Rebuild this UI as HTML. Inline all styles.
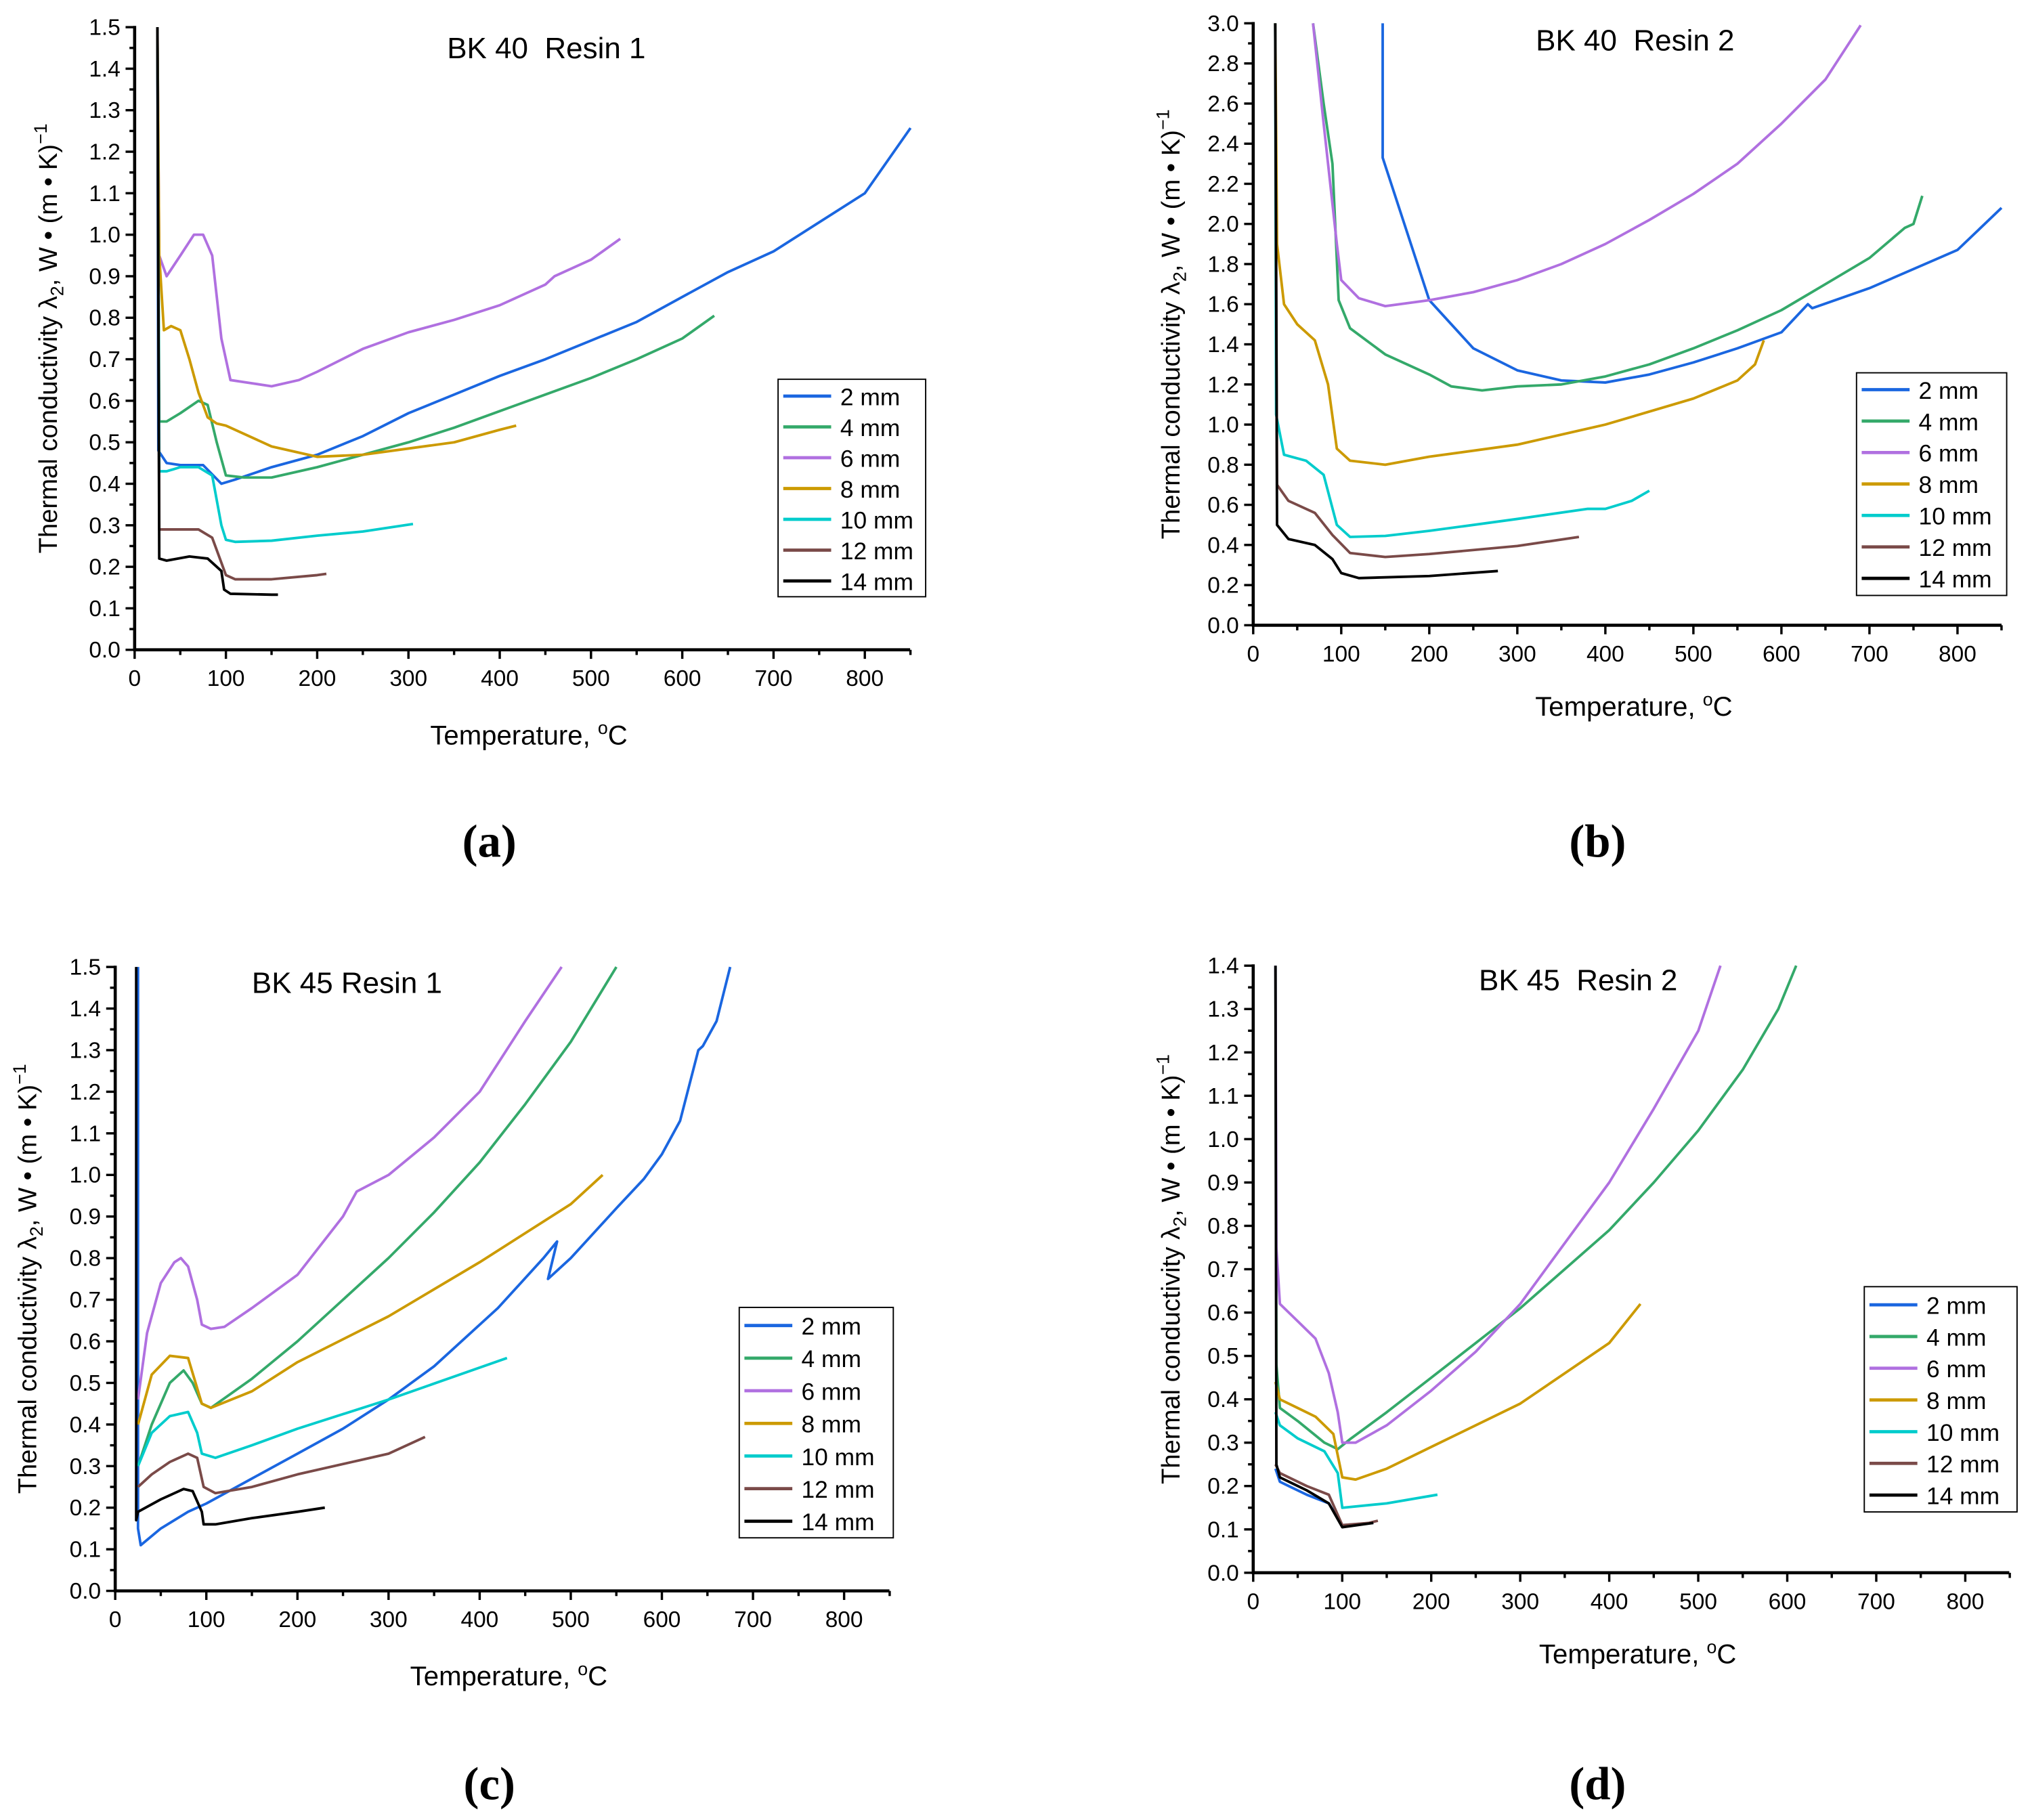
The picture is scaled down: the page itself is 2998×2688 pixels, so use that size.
<!DOCTYPE html>
<html><head><meta charset="utf-8">
<style>
html,body{margin:0;padding:0;background:#fff;}
svg{display:block;}
text{font-family:"Liberation Sans",sans-serif;fill:#000;}
</style></head>
<body>
<svg id="fig" width="2998" height="2688" viewBox="0 0 1568 1406" preserveAspectRatio="none" xmlns="http://www.w3.org/2000/svg"></svg>
<script>
const seriesNames = ["2 mm","4 mm","6 mm","8 mm","10 mm","12 mm","14 mm"];
const seriesColors = ["#1a66e0","#34a96a","#b070e0","#cc9a00","#00cccc","#7a4a48","#000000"];

// Panel (a) BK 40 Resin 1  [T, lambda]
const a2 = [[25,1.5],[26,0.48],[35,0.45],[50,0.445],[75,0.445],[95,0.40],[110,0.41],[150,0.44],[200,0.47],[250,0.515],[300,0.57],[350,0.615],[400,0.66],[450,0.70],[500,0.745],[550,0.79],[600,0.85],[650,0.91],[700,0.96],[750,1.03],[800,1.10],[850,1.257]];
const a4 = [[25,1.5],[27,0.55],[35,0.55],[50,0.57],[70,0.60],[80,0.59],[90,0.5],[100,0.42],[120,0.415],[150,0.415],[200,0.44],[250,0.47],[300,0.5],[350,0.535],[400,0.575],[450,0.615],[500,0.655],[550,0.70],[600,0.75],[635,0.805]];
const a6 = [[25,1.5],[27,0.95],[35,0.90],[50,0.95],[65,1.0],[75,1.0],[85,0.95],[95,0.75],[105,0.65],[120,0.645],[150,0.635],[180,0.65],[200,0.67],[250,0.725],[300,0.765],[350,0.795],[400,0.83],[450,0.88],[460,0.9],[500,0.94],[532,0.99]];
const a8 = [[25,1.5],[27,0.95],[32,0.77],[40,0.78],[50,0.77],[60,0.7],[70,0.62],[80,0.56],[90,0.545],[100,0.54],[150,0.49],[200,0.465],[250,0.47],[300,0.485],[350,0.5],[400,0.53],[418,0.54]];
const a10 = [[25,1.5],[27,0.43],[35,0.43],[50,0.44],[70,0.44],[85,0.42],[95,0.30],[100,0.265],[110,0.26],[150,0.263],[200,0.275],[250,0.285],[305,0.303]];
const a12 = [[25,1.5],[27,0.29],[40,0.29],[70,0.29],[85,0.27],[95,0.21],[100,0.18],[110,0.17],[150,0.17],[200,0.18],[210,0.183]];
const a14 = [[25,1.5],[27,0.22],[35,0.215],[60,0.225],[80,0.22],[95,0.19],[98,0.145],[105,0.135],[150,0.133],[157,0.133]];

// Panel (b) BK 40 Resin 2
const b2 = [[147,3.0],[147,2.33],[200,1.62],[250,1.38],[300,1.27],[350,1.22],[400,1.21],[450,1.25],[500,1.31],[550,1.38],[600,1.46],[630,1.6],[635,1.58],[700,1.68],[800,1.87],[850,2.08]];
const b4 = [[68,3.0],[80,2.6],[90,2.3],[97,1.62],[110,1.48],[150,1.35],[200,1.25],[225,1.19],[260,1.17],[300,1.19],[350,1.2],[400,1.24],[450,1.3],[500,1.38],[550,1.47],[600,1.57],[650,1.7],[700,1.83],[740,1.98],[750,2.0],[760,2.14]];
const b6 = [[68,3.0],[80,2.5],[95,1.9],[100,1.72],[120,1.63],[150,1.59],[200,1.62],[250,1.66],[300,1.72],[350,1.8],[400,1.9],[450,2.02],[500,2.15],[550,2.3],[600,2.5],[650,2.72],[690,2.99]];
const b8 = [[25,3.0],[27,1.9],[35,1.6],[50,1.5],[70,1.42],[85,1.2],[95,0.88],[110,0.82],[150,0.8],[200,0.84],[300,0.9],[400,1.0],[500,1.13],[550,1.22],[570,1.3],[580,1.42]];
const b10 = [[25,3.0],[26,1.05],[35,0.85],[60,0.82],[80,0.75],[95,0.5],[110,0.44],[150,0.445],[200,0.47],[300,0.53],[380,0.58],[400,0.58],[430,0.62],[450,0.67]];
const b12 = [[25,3.0],[27,0.7],[40,0.62],[70,0.56],[90,0.45],[110,0.36],[150,0.34],[200,0.355],[300,0.395],[370,0.44]];
const b14 = [[25,3.0],[27,0.5],[40,0.43],[70,0.4],[90,0.33],[100,0.26],[120,0.235],[200,0.245],[278,0.27]];

// Panel (c) BK 45 Resin 1
const c2 = [[25,1.5],[25,0.15],[28,0.11],[50,0.15],[80,0.19],[100,0.21],[150,0.27],[200,0.33],[250,0.39],[300,0.46],[350,0.54],[420,0.68],[470,0.8],[485,0.84],[475,0.75],[500,0.8],[550,0.92],[580,0.99],[600,1.05],[620,1.13],[640,1.3],[645,1.31],[660,1.37],[675,1.5]];
const c4 = [[25,0.3],[40,0.4],[60,0.5],[75,0.53],[85,0.5],[95,0.45],[105,0.44],[150,0.51],[200,0.6],[250,0.7],[300,0.8],[350,0.91],[400,1.03],[450,1.17],[500,1.32],[550,1.5]];
const c6 = [[25,0.46],[35,0.62],[50,0.74],[65,0.79],[72,0.8],[80,0.78],[90,0.7],[95,0.64],[105,0.63],[120,0.635],[150,0.68],[200,0.76],[250,0.9],[265,0.96],[300,1.0],[350,1.09],[400,1.2],[450,1.37],[490,1.5]];
const c8 = [[25,0.4],[40,0.52],[60,0.565],[80,0.56],[95,0.45],[105,0.44],[150,0.48],[200,0.55],[300,0.66],[400,0.79],[500,0.93],[535,1.0]];
const c10 = [[25,0.3],[40,0.38],[60,0.42],[80,0.43],[90,0.38],[95,0.33],[110,0.32],[150,0.35],[200,0.39],[300,0.46],[430,0.56]];
const c12 = [[25,0.25],[40,0.28],[60,0.31],[80,0.33],[90,0.32],[97,0.25],[110,0.235],[150,0.25],[200,0.28],[260,0.31],[300,0.33],[340,0.37]];
const c14 = [[23,1.5],[23,0.17],[25,0.19],[50,0.22],[75,0.245],[85,0.24],[95,0.19],[97,0.16],[110,0.16],[150,0.175],[200,0.19],[230,0.2]];

// Panel (d) BK 45 Resin 2
const d2 = [[25,0.24],[30,0.21],[60,0.18],[85,0.16],[100,0.11],[135,0.115]];
const d4 = [[25,1.4],[26,0.48],[30,0.38],[50,0.35],[80,0.3],[95,0.285],[110,0.31],[150,0.37],[200,0.45],[250,0.53],[300,0.61],[350,0.7],[400,0.79],[450,0.9],[500,1.02],[550,1.16],[590,1.3],[610,1.4]];
const d6 = [[25,1.4],[26,0.75],[30,0.62],[50,0.58],[70,0.54],[85,0.46],[95,0.37],[100,0.3],[115,0.3],[150,0.34],[200,0.42],[250,0.51],[300,0.62],[350,0.76],[400,0.9],[450,1.07],[500,1.25],[525,1.4]];
const d8 = [[25,0.44],[30,0.4],[50,0.38],[70,0.36],[90,0.32],[100,0.22],[115,0.215],[150,0.24],[200,0.29],[300,0.39],[400,0.53],[435,0.62]];
const d10 = [[25,0.37],[30,0.34],[50,0.31],[80,0.28],[95,0.23],[100,0.15],[150,0.16],[207,0.18]];
const d12 = [[25,0.25],[30,0.23],[60,0.2],[85,0.18],[100,0.11],[130,0.115],[140,0.12]];
const d14 = [[25,1.4],[26,0.25],[30,0.22],[60,0.19],[85,0.16],[100,0.105],[135,0.115]];

const xTicks = [0,100,200,300,400,500,600,700,800];
const yTicksA = [0,0.1,0.2,0.3,0.4,0.5,0.6,0.7,0.8,0.9,1.0,1.1,1.2,1.3,1.4,1.5];
const yTicksB = [0,0.2,0.4,0.6,0.8,1.0,1.2,1.4,1.6,1.8,2.0,2.2,2.4,2.6,2.8,3.0];
const yTicksD = [0,0.1,0.2,0.3,0.4,0.5,0.6,0.7,0.8,0.9,1.0,1.1,1.2,1.3,1.4];

const NS = "http://www.w3.org/2000/svg";
const svg = document.getElementById("fig");
function mk(tag, attrs, parent){
  const e = document.createElementNS(NS, tag);
  for (const k in attrs) e.setAttribute(k, attrs[k]);
  (parent||svg).appendChild(e);
  return e;
}

const panels = [
  {id:"a", x0:104, x800:668, xEnd:703, y0:502, yTop:21, yMax:1.5, yt:yTicksA, minor:0.05, dec:1,
   title:"BK 40\u00a0\u00a0Resin 1", tx:422, ty:45, xtitleY:575, ytitleX:44, label:"(a)", lx:378, ly:662,
   series:[a2,a4,a6,a8,a10,a12,a14], leg:{x:601,y:293,w:114,h:168,y1:306,dy:23.8}},
  {id:"b", x0:968, x800:1512, xEnd:1546, y0:483, yTop:18, yMax:3.0, yt:yTicksB, minor:0.1, dec:1,
   title:"BK 40\u00a0\u00a0Resin 2", tx:1263, ty:39, xtitleY:553, ytitleX:911, label:"(b)", lx:1234, ly:662,
   series:[b2,b4,b6,b8,b10,b12,b14], leg:{x:1434,y:288,w:116,h:172,y1:301,dy:24.3}},
  {id:"c", x0:89, x800:652, xEnd:687, y0:1229, yTop:747, yMax:1.5, yt:yTicksA, minor:0.05, dec:1,
   title:"BK 45 Resin 1", tx:268, ty:767, xtitleY:1302, ytitleX:28, label:"(c)", lx:378, ly:1390,
   series:[c2,c4,c6,c8,c10,c12,c14], leg:{x:571,y:1010,w:119,h:178,y1:1024,dy:25.2}},
  {id:"d", x0:968, x800:1518, xEnd:1552, y0:1215, yTop:746, yMax:1.4, yt:yTicksD, minor:0.05, dec:1,
   title:"BK 45\u00a0\u00a0Resin 2", tx:1219, ty:765, xtitleY:1285, ytitleX:911, label:"(d)", lx:1234, ly:1390,
   series:[d2,d4,d6,d8,d10,d12,d14], leg:{x:1440,y:994,w:118,h:174,y1:1008,dy:24.5}}
];

panels.forEach(p => {
  const g = mk("g", {});
  
  
  const sx = t => p.x0 + t * (p.x800 - p.x0) / 800;
  const sy = v => p.y0 - v * (p.y0 - p.yTop) / p.yMax;

  p.series.forEach((s, i) => {
    const d = s.map((pt, j) => (j ? "L" : "M") + sx(pt[0]).toFixed(1) + " " + sy(pt[1]).toFixed(1)).join(" ");
    const path = mk("path", {d:d, fill:"none", stroke:seriesColors[i], "stroke-width":2, "stroke-linejoin":"round"}, g);
    
    
  });

  const yAxis = mk("line", {x1:p.x0, y1:p.yTop-1, x2:p.x0, y2:p.y0+1, stroke:"#000", "stroke-width":2.4}, g);
  
  
  const xAxis = mk("line", {x1:p.x0-1, y1:p.y0, x2:p.xEnd, y2:p.y0, stroke:"#000", "stroke-width":2.4}, g);
  
  

  xTicks.forEach(t => {
    mk("line", {x1:sx(t), y1:p.y0, x2:sx(t), y2:p.y0+7, stroke:"#000", "stroke-width":1.8}, g);
    if (t + 50 <= 850) mk("line", {x1:sx(t+50), y1:p.y0, x2:sx(t+50), y2:p.y0+4, stroke:"#000", "stroke-width":1.8}, g);
    const tl = mk("text", {x:sx(t), y:p.y0+28, "text-anchor":"middle", "font-size":17.5}, g);
    tl.textContent = t;
    
    
  });
  p.yt.forEach(v => {
    mk("line", {x1:p.x0-7, y1:sy(v), x2:p.x0, y2:sy(v), stroke:"#000", "stroke-width":1.8}, g);
    const tl = mk("text", {x:p.x0-11, y:sy(v)+6, "text-anchor":"end", "font-size":17.5}, g);
    tl.textContent = v.toFixed(p.dec);
    
    
  });
  for (let v = p.minor; v < p.yMax - 1e-6; v += p.minor * 2) {
    mk("line", {x1:p.x0-4, y1:sy(v), x2:p.x0, y2:sy(v), stroke:"#000", "stroke-width":1.8}, g);
  }

  const t = mk("text", {x:p.tx, y:p.ty, "text-anchor":"middle", "font-size":23}, g);
  t.textContent = p.title;
  
  

  const xt = mk("text", {x:(p.x0+p.xEnd)/2+5, y:p.xtitleY, "text-anchor":"middle", "font-size":21}, g);
  xt.innerHTML = 'Temperature, <tspan dy="-8" font-size="14">o</tspan><tspan dy="8">C</tspan>';
  
  

  const cy = (p.y0 + p.yTop) / 2;
  const yt = mk("text", {x:p.ytitleX, y:cy, "text-anchor":"middle", "font-size":20, transform:"rotate(-90 "+p.ytitleX+" "+cy+")"}, g);
  yt.innerHTML = 'Thermal conductivity λ<tspan dy="5" font-size="14">2</tspan><tspan dy="-5">, W • (m • K)</tspan><tspan dy="-8" font-size="14">−1</tspan>';
  
  

  const pl = mk("text", {x:p.lx, y:p.ly, "text-anchor":"middle", "font-size":36, "font-weight":"bold", style:"font-family:'Liberation Serif',serif"}, g);
  pl.textContent = p.label;
  
  

  const L = p.leg;
  const lg = mk("g", {}, g);
  
  
  mk("rect", {x:L.x, y:L.y, width:L.w, height:L.h, fill:"#fff", stroke:"#000", "stroke-width":1}, lg);
  seriesNames.forEach((n, i) => {
    const yy = L.y1 + i * L.dy;
    const e = mk("g", {}, lg);
    
    
    mk("line", {x1:L.x+4, y1:yy, x2:L.x+41, y2:yy, stroke:seriesColors[i], "stroke-width":2.5}, e);
    const tx = mk("text", {x:L.x+48, y:yy+7, "font-size":18.5}, e);
    tx.textContent = n;
  });
});
</script>
</body></html>
